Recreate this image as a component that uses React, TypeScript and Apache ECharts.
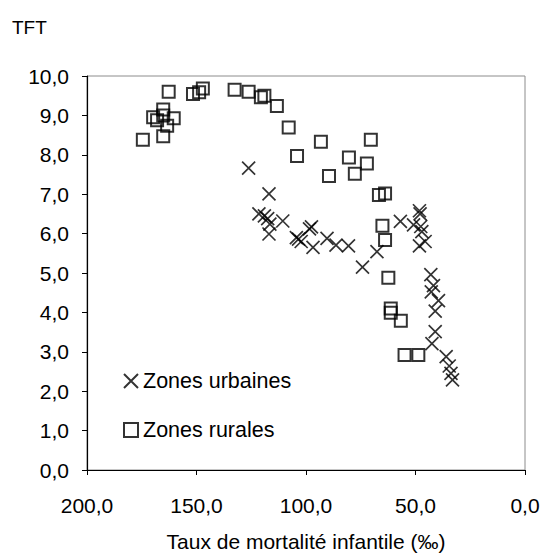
import React, { useEffect, useRef } from "react";
import * as echarts from "echarts";

const yTicks = [0, 1, 2, 3, 4, 5, 6, 7, 8, 9, 10];
const xTicks = [0, 50, 100, 150, 200];

const seriesNames = ["Zones urbaines", "Zones rurales"];

const urbanMortality = [
  126.2, 116.9, 121.5, 119.0, 117.5, 116.5, 116.9, 110.6, 104.4, 103.4, 102.2,
  98.4, 97.5, 96.8, 90.4, 86.3, 80.6, 74.2, 67.6, 56.9, 48.2, 47.9, 50.9, 47.6,
  47.1, 45.6, 48.2, 43.0, 41.8, 42.8, 39.5, 41.0, 41.0, 42.5, 36.0, 34.6, 33.8,
  33.1,
];
const urbanTFT = [
  7.66, 7.01, 6.5, 6.45, 6.38, 6.24, 5.99, 6.32, 5.9, 5.86, 5.8, 6.12, 6.17,
  5.65, 5.88, 5.71, 5.69, 5.15, 5.54, 6.31, 6.58, 6.5, 6.22, 6.18, 6.05, 5.8,
  5.69, 4.96, 4.68, 4.52, 4.3, 4.03, 3.51, 3.21, 2.88, 2.64, 2.45, 2.29,
];

const ruralMortality = [
  174.5, 169.8, 168.0, 165.2, 165.2, 160.4, 163.4, 165.2, 162.7, 151.6, 148.8,
  147.1, 132.6, 126.2, 120.6, 119.0, 113.3, 107.9, 104.1, 93.2, 89.5, 80.4,
  77.7, 72.2, 70.4, 66.7, 63.9, 65.1, 63.9, 62.4, 61.3, 61.3, 56.7, 55.0, 48.7,
];
const ruralTFT = [
  8.38, 8.95, 8.88, 9.15, 9.0, 8.93, 8.74, 8.47, 9.6, 9.54, 9.59, 9.68, 9.65,
  9.6, 9.46, 9.5, 9.24, 8.69, 7.97, 8.33, 7.46, 7.93, 7.52, 7.78, 8.38, 6.98,
  7.02, 6.2, 5.84, 4.88, 4.1, 3.99, 3.79, 2.92, 2.92,
];

const crossPath = "path://M0,0L10,10M0,10L10,0";
const fmt = (v: number) => v.toFixed(1).replace(".", ",");
const FONT = "'Liberation Sans', Arial, sans-serif";

export default function App() {
  const ref = useRef<HTMLDivElement>(null);
  useEffect(() => {
    if (!ref.current) return;
    const chart = echarts.init(ref.current, undefined, { renderer: "svg" });
    const urban = urbanMortality.map((x, i) => [x, urbanTFT[i]]);
    const rural = ruralMortality.map((x, i) => [x, ruralTFT[i]]);
    chart.setOption({
      animation: false,
      backgroundColor: "#fff",
      textStyle: { fontFamily: FONT },
      title: {
        text: "TFT",
        left: 7,
        top: 13,
        textStyle: { fontFamily: FONT, fontSize: 19, fontWeight: "normal", color: "#000" },
      },
      grid: {
        left: 87,
        top: 76,
        width: 438,
        height: 396,
        show: true,
        borderColor: "#8c8c8c",
        borderWidth: 1,
        backgroundColor: "#fff",
      },
      legend: {
        orient: "vertical",
        left: 118,
        top: 365,
        itemWidth: 14,
        itemHeight: 14,
        itemGap: 27,
        textStyle: { fontFamily: FONT, fontSize: 21.5, color: "#000" },
        data: [
          { name: seriesNames[0], icon: crossPath },
          { name: seriesNames[1], icon: "rect" },
        ],
      },
      xAxis: {
        type: "value",
        inverse: true,
        min: 0,
        max: 200,
        interval: 50,
        name: "Taux de mortalité infantile (‰)",
        nameLocation: "middle",
        nameGap: 61,
        nameTextStyle: { fontFamily: FONT, fontSize: 21, color: "#000" },
        axisLine: { show: true, onZero: false, lineStyle: { color: "#000", width: 1.2 } },
        axisTick: { show: true, inside: false, length: 5, lineStyle: { color: "#000" } },
        axisLabel: {
          margin: 25,
          fontFamily: FONT,
          fontSize: 21,
          color: "#000",
          formatter: (v: number) => (xTicks.includes(v) ? fmt(v) : ""),
        },
        splitLine: { show: false },
      },
      yAxis: {
        type: "value",
        min: 0,
        max: 10,
        interval: 1,
        axisLine: { show: true, onZero: false, lineStyle: { color: "#000", width: 1.2 } },
        axisTick: { show: true, inside: false, length: 5, lineStyle: { color: "#000" } },
        axisLabel: {
          margin: 18,
          fontFamily: FONT,
          fontSize: 21,
          color: "#000",
          formatter: (v: number) => (yTicks.includes(v) ? fmt(v) : ""),
        },
        splitLine: { show: false },
      },
      series: [
        {
          name: seriesNames[0],
          type: "scatter",
          symbol: crossPath,
          symbolSize: 13,
          itemStyle: { color: "rgba(0,0,0,0)", borderColor: "#000", borderWidth: 1.7 },
          data: urban,
        },
        {
          name: seriesNames[1],
          type: "scatter",
          symbol: "rect",
          symbolSize: 12,
          itemStyle: { color: "rgba(0,0,0,0)", borderColor: "#000", borderWidth: 2 },
          data: rural,
        },
      ],
    });
    return () => chart.dispose();
  }, []);
  return (
    <div
      ref={ref}
      style={{ position: "fixed", left: 0, top: 0, width: 543, height: 557, background: "#fff" }}
    />
  );
}
